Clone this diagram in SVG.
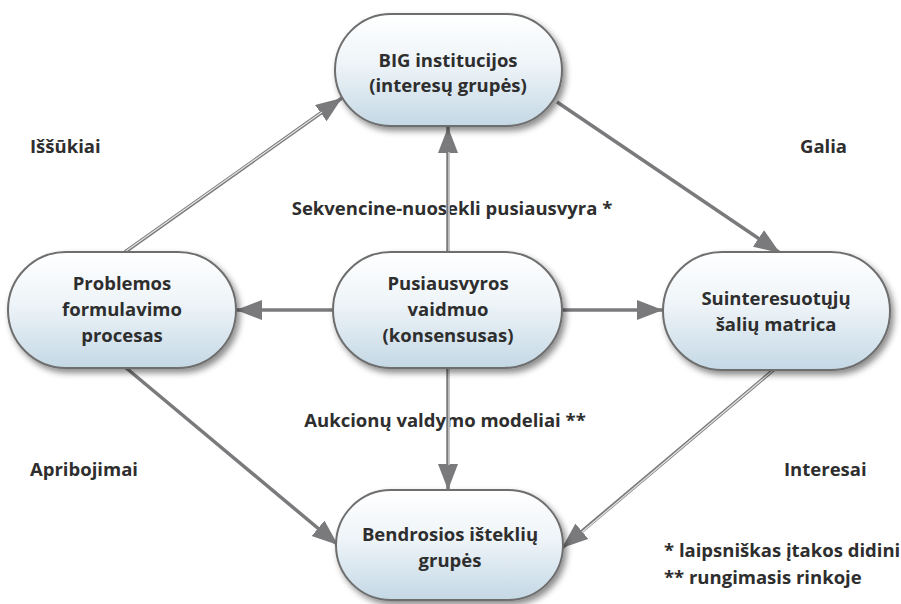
<svg xmlns="http://www.w3.org/2000/svg" width="901" height="604" viewBox="0 0 901 604">
<defs>
<linearGradient id="g" x1="0" y1="0" x2="0" y2="1">
<stop offset="0" stop-color="#ffffff"/>
<stop offset="0.45" stop-color="#eef4f8"/>
<stop offset="1" stop-color="#c4d8e5"/>
</linearGradient>
<filter id="sh" x="-10%" y="-10%" width="130%" height="140%">
<feDropShadow dx="3" dy="4" stdDeviation="3" flood-color="#000" flood-opacity="0.45"/>
</filter>
<marker id="ah" markerUnits="userSpaceOnUse" markerWidth="28" markerHeight="22" refX="26" refY="10" orient="auto">
<path d="M0,0 L26,10 L0,20 z" fill="#7a7a7c"/>
</marker>
<style>
.node rect{fill:url(#g);stroke:#6e6e6e;stroke-width:2;filter:url(#sh)}
.node text,.lbl{font-family:"Open Sans","Liberation Sans",sans-serif;font-weight:bold;font-size:18.5px;fill:#2e2e2e;text-anchor:middle}
.lbl.l{text-anchor:start}
.c{stroke:#7a7a7c;stroke-width:3.5;fill:none;marker-end:url(#ah)}
.h{stroke:#e4e4e4;stroke-width:1.2;fill:none}
</style>
</defs>
<g id="labels">
<text class="lbl l" x="30" y="153">Iššūkiai</text>
<text class="lbl l" x="800" y="153">Galia</text>
<text class="lbl l" x="30" y="476">Apribojimai</text>
<text class="lbl l" x="784" y="476">Interesai</text>
<text class="lbl" x="452" y="215">Sekvencine-nuosekli pusiausvyra *</text>
<text class="lbl" x="445" y="427">Aukcionų valdymo modeliai **</text>
<text class="lbl l" x="664" y="557">* laipsniškas įtakos didini</text>
<text class="lbl l" x="664" y="584">** rungimasis rinkoje</text>
</g>
<g id="connectors">
<line class="c" x1="125" y1="252" x2="342" y2="98"/>
<line class="h" x1="126" y1="251" x2="322" y2="112"/>
<line class="c" x1="557" y1="102" x2="780" y2="253"/>
<line class="c" x1="448" y1="252" x2="448" y2="127"/>
<line class="h" x1="449" y1="252" x2="449" y2="152"/>
<line class="c" x1="333" y1="310" x2="236" y2="310"/>
<line class="c" x1="562" y1="310" x2="663" y2="310"/>
<line class="c" x1="448" y1="368" x2="448" y2="490"/>
<line class="h" x1="449" y1="368" x2="449" y2="465"/>
<line class="c" x1="125" y1="367" x2="338" y2="545"/>
<line class="c" x1="777" y1="367" x2="562" y2="548"/>
<line class="h" x1="776" y1="368" x2="582" y2="532"/>
</g>
<g id="n_big" class="node">
<rect x="335" y="14" width="227" height="112" rx="56"/>
<text x="448" y="67">BIG institucijos</text>
<text x="448" y="92">(interesų grupės)</text>
</g>
<g id="n_prob" class="node">
<rect x="8" y="252" width="228" height="116" rx="58"/>
<text x="122" y="290">Problemos</text>
<text x="122" y="316">formulavimo</text>
<text x="122" y="342">procesas</text>
</g>
<g id="n_center" class="node">
<rect x="333" y="252" width="229" height="116" rx="58"/>
<text x="448" y="290">Pusiausvyros</text>
<text x="448" y="316">vaidmuo</text>
<text x="448" y="342">(konsensusas)</text>
</g>
<g id="n_matrix" class="node">
<rect x="663" y="252" width="227" height="118" rx="59"/>
<text x="776" y="305">Suinteresuotųjų</text>
<text x="776" y="331">šalių matrica</text>
</g>
<g id="n_bottom" class="node">
<rect x="336" y="490" width="227" height="110" rx="55"/>
<text x="450" y="541">Bendrosios išteklių</text>
<text x="450" y="567">grupės</text>
</g>
</svg>
